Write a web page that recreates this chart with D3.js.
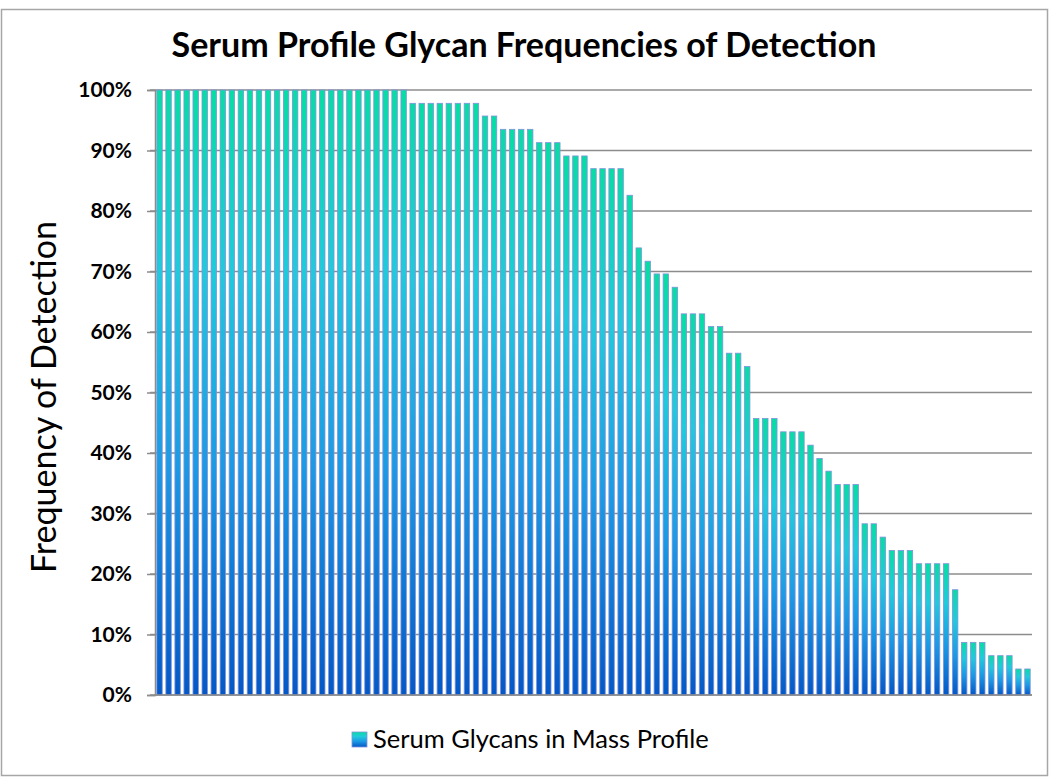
<!DOCTYPE html>
<html>
<head>
<meta charset="utf-8">
<script src="https://cdn.jsdelivr.net/npm/d3@7"></script>
<style>
	body { margin: 0; background: #fff; }
	svg { display: block; }
	text { font-family: Lato, "Open Sans", sans-serif; fill: #000; }
</style>
</head>
<body>
<div id="chart"></div>
<script>
const WIDTH = 1050;
const HEIGHT = 779;

// frequency of detection per glycan (%), sorted high to low
const values = [
	100, 100, 100, 100, 100, 100, 100, 100, 100, 100,
	100, 100, 100, 100, 100, 100, 100, 100, 100, 100,
	100, 100, 100, 100, 100, 100, 100, 100,
	97.8, 97.8, 97.8, 97.8, 97.8, 97.8, 97.8, 97.8,
	95.7, 95.7,
	93.5, 93.5, 93.5, 93.5,
	91.3, 91.3, 91.3,
	89.1, 89.1, 89.1,
	87.0, 87.0, 87.0, 87.0,
	82.6,
	73.9,
	71.7,
	69.6, 69.6,
	67.4,
	63.0, 63.0, 63.0,
	60.9, 60.9,
	56.5, 56.5,
	54.3,
	45.7, 45.7, 45.7,
	43.5, 43.5, 43.5,
	41.3,
	39.1,
	37.0,
	34.8, 34.8, 34.8,
	28.3, 28.3,
	26.1,
	23.9, 23.9, 23.9,
	21.7, 21.7, 21.7, 21.7,
	17.4,
	8.7, 8.7, 8.7,
	6.5, 6.5, 6.5,
	4.3, 4.3
];
const categories = values.map((d, i) => i + 1);
const yTicks = [0, 10, 20, 30, 40, 50, 60, 70, 80, 90, 100];

const title = 'Serum Profile Glycan Frequencies of Detection';
const yTitle = 'Frequency of Detection';
const seriesName = 'Serum Glycans in Mass Profile';

const margin = { top: 90, right: 18, bottom: 84, left: 155 };
const innerW = WIDTH - margin.left - margin.right;
const innerH = HEIGHT - margin.top - margin.bottom;

const svg = d3.select('#chart')
	.append('svg')
	.attr('width', WIDTH)
	.attr('height', HEIGHT);

// bar gradient, green at top down to blue
const defs = svg.append('defs');
const grad = defs.append('linearGradient')
	.attr('id', 'barGrad')
	.attr('x1', 0).attr('y1', 0)
	.attr('x2', 0).attr('y2', 1);
[
	['0%', '#08dca4'],
	['30%', '#20cadb'],
	['62%', '#1c9ae4'],
	['100%', '#0458c6']
].forEach(([o, c]) => grad.append('stop').attr('offset', o).attr('stop-color', c));

// outer frame
svg.append('rect')
	.attr('x', 1.5).attr('y', 9.5)
	.attr('width', WIDTH - 4).attr('height', HEIGHT - 13)
	.attr('fill', 'none')
	.attr('stroke', '#a6a6a6')
	.attr('stroke-width', 1.5);

const x = d3.scaleBand()
	.domain(categories)
	.range([0, innerW])
	.paddingInner(0.4)
	.paddingOuter(0.2);

const y = d3.scaleLinear()
	.domain([0, 100])
	.range([innerH, 0]);

const g = svg.append('g')
	.attr('transform', `translate(${margin.left},${margin.top})`);

// gridlines
g.append('g')
	.selectAll('line')
	.data(yTicks)
	.join('line')
	.attr('x1', -5)
	.attr('x2', innerW)
	.attr('y1', d => y(d))
	.attr('y2', d => y(d))
	.attr('stroke', '#8c8c8c')
	.attr('stroke-width', 1.5);

// y axis
const yAxis = g.append('g')
	.call(d3.axisLeft(y).tickValues(yTicks).tickFormat(d => d + '%').tickSize(8).tickPadding(15));
yAxis.select('.domain').attr('stroke', '#8c8c8c').attr('stroke-width', 1.5);
yAxis.selectAll('.tick line').attr('stroke', '#8c8c8c').attr('stroke-width', 1.5);
yAxis.selectAll('.tick text')
	.style('font-family', 'Lato, sans-serif')
	.style('font-size', '21px')
	.style('font-weight', 'bold')
	.attr('fill', '#111');

// bars
g.append('g')
	.selectAll('rect')
	.data(values)
	.join('rect')
	.attr('x', (d, i) => x(categories[i]))
	.attr('y', d => y(d))
	.attr('width', x.bandwidth())
	.attr('height', d => innerH - y(d))
	.attr('fill', 'url(#barGrad)')
	.attr('stroke', '#7f93dc')
	.attr('stroke-width', 0.8);

// x axis line
g.append('line')
	.attr('x1', 0).attr('x2', innerW)
	.attr('y1', innerH).attr('y2', innerH)
	.attr('stroke', '#8c8c8c')
	.attr('stroke-width', 1.5);

// title
svg.append('text')
	.attr('x', 524)
	.attr('y', 57)
	.attr('text-anchor', 'middle')
	.style('font-size', '34px')
	.style('font-weight', 'bold')
	.text(title);

// y axis title
svg.append('text')
	.attr('transform', 'translate(56,397) rotate(-90)')
	.attr('text-anchor', 'middle')
	.style('font-size', '34px')
	.text(yTitle);

// legend
const legend = svg.append('g')
	.attr('transform', 'translate(352,732)');
legend.append('rect')
	.attr('width', 15).attr('height', 15)
	.attr('fill', 'url(#barGrad)')
	.attr('stroke', '#7f93dc')
	.attr('stroke-width', 0.8);
legend.append('text')
	.attr('x', 21)
	.attr('y', 16)
	.style('font-size', '25.5px')
	.text(seriesName);
</script>
</body>
</html>
